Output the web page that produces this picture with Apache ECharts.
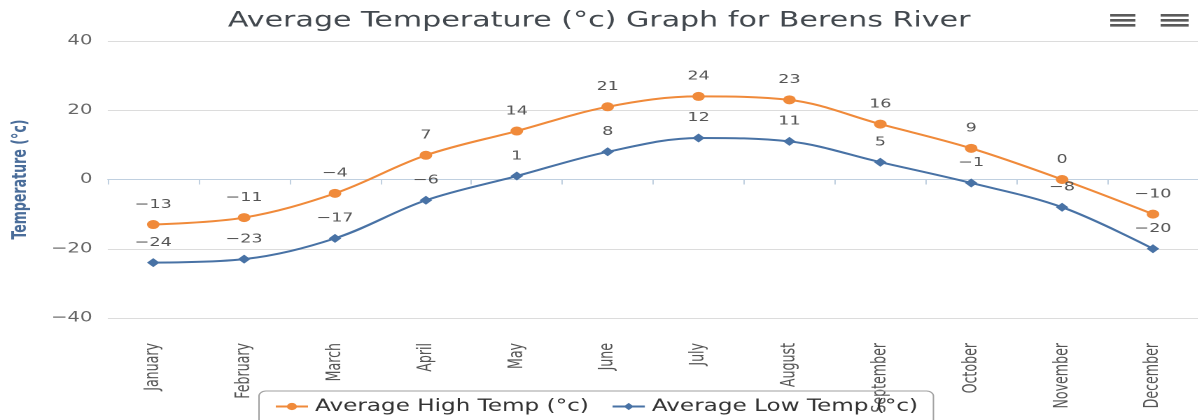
<!DOCTYPE html>
<html><head><meta charset="utf-8">
<script src="https://cdn.jsdelivr.net/npm/echarts@6/dist/echarts.min.js"></script>
<style>
html,body{margin:0;padding:0;background:#fff;overflow:hidden}
#wrap{width:1198px;height:420px;overflow:hidden}
#c{width:856px;height:420px;transform:scaleX(1.4);transform-origin:0 0}
</style>
</head><body><div id="wrap"><div id="c"></div></div>
<script>
var months = ['January','February','March','April','May','June','July','August','September','October','November','December'];
var highTemps = [-13,-11,-4,7,14,21,24,23,16,9,0,-10];
var lowTemps = [-24,-23,-17,-6,1,8,12,11,5,-1,-8,-20];
var yTicks = [-40,-20,0,20,40];

function fmt(v){ return String(v).replace('-', '\u2212'); }
var narrow = "'Liberation Sans Narrow','DejaVu Sans Condensed','Roboto Condensed',Roboto,sans-serif";
var chart = echarts.init(document.getElementById('c'), null, {devicePixelRatio:2});
var bar = function(x,y,w){ return {type:'rect', shape:{x:x,y:y,width:w,height:2.6}, style:{fill:'#5a5a5a'}}; };
chart.setOption({
  backgroundColor:'#fff',
  animation:false,
  title:{text:'Average Temperature (\u00b0c) Graph for Berens River', left:'center', top:5,
    textStyle:{fontFamily:'DejaVu Sans', fontSize:21.5, fontWeight:'normal', color:'#42484e'}},
  graphic:[
    bar(793,14,18), bar(793,19,18), bar(793,24,18),
    bar(829,14,20), bar(829,19,20), bar(829,24,20)
  ],
  grid:{left:74, right:0, top:41, bottom:102, containLabel:false},
  legend:{left:185, top:391, padding:[7,11,10,11], borderColor:'#a0a0a0', borderWidth:1, borderRadius:5,
    itemGap:16, itemWidth:23, itemHeight:9,
    textStyle:{fontFamily:'DejaVu Sans', fontSize:16.5, color:'#333'},
    data:['Average High Temp (\u00b0c)','Average Low Temp (\u00b0c)']},
  xAxis:{type:'category', data:months, boundaryGap:true,
    axisLine:{lineStyle:{color:'#c0d0e0'}},
    axisTick:{show:true, length:5, lineStyle:{color:'#c0d0e0'}},
    axisLabel:{rotate:90, margin:25, color:'#555', fontFamily:narrow, fontSize:14, interval:0}},
  yAxis:{type:'value', min:yTicks[0], max:yTicks[yTicks.length-1], interval:20,
    name:'Temperature (\u00b0c)', nameLocation:'middle', nameRotate:90, nameGap:55,
    nameTextStyle:{color:'#4a6d9a', fontFamily:narrow, fontWeight:'bold', fontSize:14},
    axisLine:{show:false}, axisTick:{show:false},
    splitLine:{lineStyle:{color:'#dcdcdc'}},
    axisLabel:{margin:11, color:'#666', fontFamily:'DejaVu Sans', fontSize:14, formatter:function(v){return fmt(v);}}},
  series:[
    {name:'Average High Temp (\u00b0c)', type:'line', smooth:0.35, data:highTemps,
      symbol:'circle', symbolSize:9, itemStyle:{color:'#F08A3A'}, lineStyle:{color:'#F08A3A', width:2},
      label:{show:true, position:'top', distance:9, color:'#555', fontFamily:'DejaVu Sans', fontSize:12.5,
        formatter:function(p){return fmt(p.value);}}},
    {name:'Average Low Temp (\u00b0c)', type:'line', smooth:0.35, data:lowTemps,
      symbol:'diamond', symbolSize:9, itemStyle:{color:'#4872A5'}, lineStyle:{color:'#4872A5', width:2},
      label:{show:true, position:'top', distance:9, color:'#555', fontFamily:'DejaVu Sans', fontSize:12.5,
        formatter:function(p){return fmt(p.value);}}}
  ]
});
</script></body></html>
